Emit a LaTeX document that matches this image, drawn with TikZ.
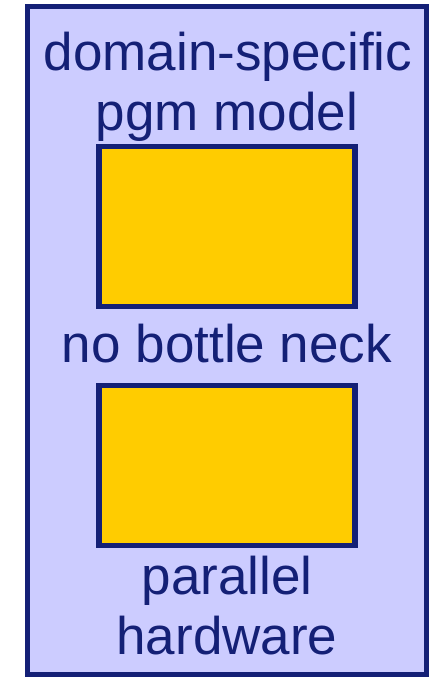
\documentclass[tikz,border=0pt]{standalone}
\usepackage{fontspec}
\setmainfont{Liberation Sans}
\definecolor{navy}{RGB}{20,32,118}
\definecolor{lav}{RGB}{204,204,255}
\definecolor{gold}{RGB}{255,204,0}
\begin{document}
\begin{tikzpicture}[x=1pt,y=-1pt,
  panel/.style={draw=navy,fill=lav,line width=5pt},
  block/.style={draw=navy,fill=gold,line width=5.5pt},
  lbl/.style={text=navy,font=\fontsize{53}{60}\selectfont,anchor=base,inner sep=0pt}]
\useasboundingbox (0,0) rectangle (432,678);
\path[panel] (27.5,6.5) rectangle (426.5,674.5);
\coordinate (panelTL) at (27.5,6.5);
\node[block,minimum width=256pt,minimum height=160pt,inner sep=0pt] (b1) at (227,226.25) {};
\node[block,minimum width=256pt,minimum height=160pt,inner sep=0pt] (b2) at (227,465.5) {};
\node[lbl] (t1) at (228,70) {domain-specific};
\node[lbl] (t2) at (227,130) {pgm model};
\node[lbl] (t3) at (227,362) {no bottle neck};
\node[lbl] (t4) at (227,594) {parallel};
\node[lbl] (t5) at (227,654) {hardware};
\end{tikzpicture}
\end{document}
